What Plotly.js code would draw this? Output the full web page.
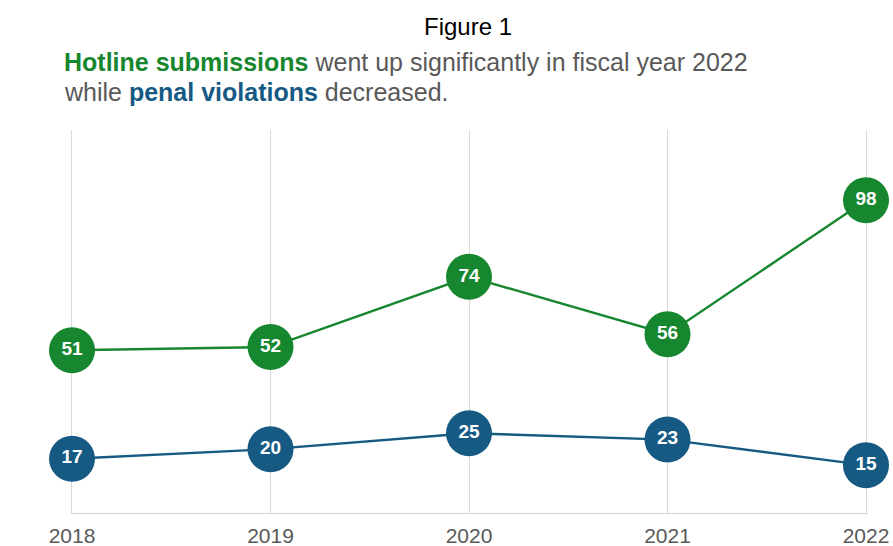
<!DOCTYPE html>
<html>
<head>
<meta charset="utf-8">
<script src="https://cdn.plot.ly/plotly-3.0.1.min.js"></script>
<style>html,body{margin:0;padding:0;background:#fff;}#chart{width:893px;height:546px;}</style>
</head>
<body>
<div id="chart"></div>
<script>
const years = [2018, 2019, 2020, 2021, 2022];
const hotline = [51, 52, 74, 56, 98];
const penal = [17, 20, 25, 23, 15];
const tickLabels = ['2018', '2019', '2020', '2021', '2022'];

const green = '#17872f';
const blue = '#165a84';

function series(vals, color, name) {
  return {
    x: years, y: vals, name: name,
    mode: 'lines+markers+text',
    text: vals.map(String),
    textposition: 'middle center',
    textfont: {family: 'Liberation Sans, Arial, sans-serif', size: 19, color: '#ffffff', weight: 'bold'},
    line: {color: color, width: 2.4},
    marker: {color: color, size: 46, line: {width: 0}},
    cliponaxis: false,
    hoverinfo: 'x+y'
  };
}

const data = [series(penal, blue, 'Penal violations'), series(hotline, green, 'Hotline submissions')];

const layout = {
  width: 893, height: 546,
  margin: {l: 72, r: 27, t: 130, b: 33},
  paper_bgcolor: '#ffffff', plot_bgcolor: '#ffffff',
  showlegend: false,
  font: {family: 'Liberation Sans, Arial, sans-serif', color: '#595959'},
  xaxis: {
    range: [2018, 2022], tickvals: years, ticktext: tickLabels,
    showgrid: true, gridcolor: '#d9d9d9', gridwidth: 1,
    showline: true, linecolor: '#d0d0d0', linewidth: 1, layer: 'below traces',
    zeroline: false, ticks: '', ticklabelstandoff: 4,
    tickfont: {size: 21, color: '#595959'}
  },
  yaxis: {
    range: [0, 120], showgrid: false, zeroline: false,
    showticklabels: false, showline: true, mirror: true, layer: 'below traces',
    linecolor: '#d9d9d9', linewidth: 1, ticks: ''
  },
  annotations: [
    {xref: 'paper', yref: 'paper', x: 0.499, y: 1.269, xanchor: 'center', yanchor: 'middle',
     text: 'Figure 1', showarrow: false,
     font: {family: 'Liberation Sans Narrow, Arial Narrow, Liberation Sans, sans-serif', size: 24, color: '#000000'}},
    {xref: 'paper', yref: 'paper', x: -0.012, y: 1.178, xanchor: 'left', yanchor: 'middle', align: 'left',
     text: '<b><span style="color:' + green + '">Hotline submissions</span></b> went up significantly in fiscal year 2022',
     showarrow: false, font: {size: 25, color: '#595959'}},
    {xref: 'paper', yref: 'paper', x: -0.012, y: 1.099, xanchor: 'left', yanchor: 'middle', align: 'left',
     text: 'while <b><span style="color:' + blue + '">penal violations</span></b> decreased.',
     showarrow: false, font: {size: 25, color: '#595959'}}
  ]
};

Plotly.newPlot('chart', data, layout, {displayModeBar: false, staticPlot: true});
</script>
</body>
</html>
